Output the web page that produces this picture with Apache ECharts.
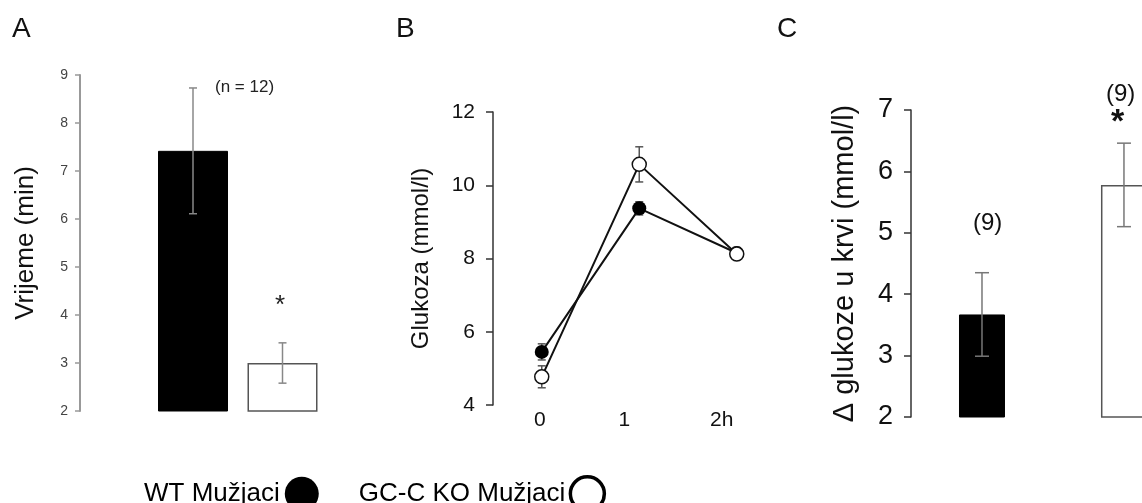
<!DOCTYPE html>
<html><head><meta charset="utf-8">
<script src="https://cdn.jsdelivr.net/npm/echarts@6/dist/echarts.min.js"></script>
<style>html,body{margin:0;padding:0;background:#fff}#c{width:1142px;height:503px}</style>
</head><body><div id="c"></div>
<script>
// ---------- data ----------
const groups = ['WT Mužjaci', 'GC-C KO Mužjaci'];
// Panel A: time (min)
const aTime = [7.42, 3.0];
const aErr = [1.31, 0.42];
const aTicks = [2, 9, 1];
// Panel B: glucose (mmol/l) over time
const bHours = [0, 1, 2];
const bHourLabels = ['0', '1', '2h'];
const bWT = [5.45, 9.37, 8.15];
const bWTErr = [0.22, 0.18, 0.15];
const bKO = [4.77, 10.57, 8.12];
const bKOErr = [0.3, 0.48, 0.15];
// Panel C: delta blood glucose
const cGroupPos = [0, 1];
const cDelta = [3.67, 5.78];
const cErr = [0.68, 0.68];
const cN = ['(9)', '(9)'];

const FF = 'Arial, "Liberation Sans", sans-serif';
const chart = echarts.init(document.getElementById('c'), null, {renderer: 'canvas'});

function errRender(capHalf, color, lw) {
  return function (params, api) {
    const x = api.value(0), y = api.value(1), e = api.value(2);
    const t = api.coord([x, y + e]);
    const b = api.coord([x, y - e]);
    const st = {stroke: color, lineWidth: lw};
    return {type: 'group', children: [
      {type: 'line', shape: {x1: t[0], y1: t[1], x2: b[0], y2: b[1]}, style: st},
      {type: 'line', shape: {x1: t[0] - capHalf, y1: t[1], x2: t[0] + capHalf, y2: t[1]}, style: st},
      {type: 'line', shape: {x1: b[0] - capHalf, y1: b[1], x2: b[0] + capHalf, y2: b[1]}, style: st}
    ]};
  };
}

const barStyles = [
  {color: '#000', borderColor: '#000', borderWidth: 1},
  {color: '#fff', borderColor: '#555', borderWidth: 1.5}
];

const option = {
  animation: false,
  backgroundColor: '#fff',
  textStyle: {fontFamily: FF},
  grid: [
    {left: 148.25, top: 75, width: 179, height: 336, outerBoundsMode: 'none'},
    {left: 493, top: 112, width: 273, height: 293, outerBoundsMode: 'none'},
    {left: 911, top: 110, right: 0, height: 307, outerBoundsMode: 'none'}
  ],
  xAxis: [
    {gridIndex: 0, type: 'category', data: groups, axisLine: {show: false}, axisTick: {show: false}, axisLabel: {show: false}},
    {gridIndex: 1, type: 'value', min: -0.5, max: 2.3, splitLine: {show: false}, axisLine: {show: false}, axisTick: {show: false},
      axisLabel: {customValues: bHours, margin: 5, fontSize: 21, color: '#111',
        formatter: function (v) { const i = bHours.indexOf(v); return '{l' + i + '|' + bHourLabels[i] + '}'; },
        rich: {l0: {fontSize: 21, padding: [0, 4, 0, 0]}, l1: {fontSize: 21, padding: [0, 30, 0, 0]}, l2: {fontSize: 21, padding: [0, 30, 0, 0]}}}},
    {gridIndex: 2, type: 'value', min: -0.5, max: 1.127, splitLine: {show: false}, axisLine: {show: false}, axisTick: {show: false}, axisLabel: {show: false}}
  ],
  yAxis: [
    {gridIndex: 0, type: 'value', min: aTicks[0], max: aTicks[1], interval: aTicks[2], offset: 68.25,
      splitLine: {show: false},
      axisLine: {show: true, onZero: false, lineStyle: {color: '#999', width: 2}},
      axisTick: {show: true, length: 5, lineStyle: {color: '#999', width: 1.5}},
      axisLabel: {fontSize: 14, color: '#444', margin: 12},
      name: 'Vrijeme (min)', nameLocation: 'middle', nameRotate: 90, nameGap: 41,
      nameTextStyle: {fontSize: 26, color: '#111'}},
    {gridIndex: 1, type: 'value', min: 4, max: 12, interval: 2,
      splitLine: {show: false},
      axisLine: {show: true, onZero: false, lineStyle: {color: '#333', width: 1.5}},
      axisTick: {show: true, length: 7, lineStyle: {color: '#333', width: 1.5}},
      axisLabel: {fontSize: 21, color: '#111', margin: 18},
      name: 'Glukoza (mmol/l)', nameLocation: 'middle', nameRotate: 90, nameGap: 60,
      nameTextStyle: {fontSize: 24, color: '#111'}},
    {gridIndex: 2, type: 'value', min: 2, max: 7, interval: 1,
      splitLine: {show: false},
      axisLine: {show: true, onZero: false, lineStyle: {color: '#333', width: 1.5}},
      axisTick: {show: true, length: 7, lineStyle: {color: '#333', width: 1.5}},
      axisLabel: {fontSize: 27, color: '#111', margin: 18},
      name: 'Δ glukoze u krvi (mmol/l)', nameLocation: 'middle', nameRotate: 90, nameGap: 52,
      nameTextStyle: {fontSize: 29, color: '#111'}}
  ],
  legend: {
    left: 139, top: 470, align: 'right', icon: 'circle', itemWidth: 34, itemHeight: 34, itemGap: 40,
    selectedMode: false,
    textStyle: {fontSize: 26, color: '#000', fontFamily: FF},
    data: [
      {name: groups[0], itemStyle: {color: '#000', borderColor: '#000', borderWidth: 0}},
      {name: groups[1], itemStyle: {color: '#fff', borderColor: '#000', borderWidth: 3.5}}
    ]
  },
  graphic: [
    {type: 'text', left: 12, top: 15, style: {text: 'A', fontSize: 28, fill: '#111', fontFamily: FF}},
    {type: 'text', left: 396, top: 15, style: {text: 'B', fontSize: 28, fill: '#111', fontFamily: FF}},
    {type: 'text', left: 777, top: 15, style: {text: 'C', fontSize: 28, fill: '#111', fontFamily: FF}},
    {type: 'text', left: 215, top: 79, style: {text: '(n = 12)', fontSize: 17, fill: '#222', fontFamily: FF}},
    {type: 'text', left: 275, top: 293, style: {text: '*', fontSize: 26, fill: '#222', fontFamily: FF}},
    {type: 'text', left: 973, top: 211, style: {text: cN[0], fontSize: 24, fill: '#111', fontFamily: FF}},
    {type: 'text', left: 1106, top: 82, style: {text: cN[1], fontSize: 24, fill: '#111', fontFamily: FF}},
    {type: 'text', left: 1111, top: 106, style: {text: '*', fontSize: 34, fontWeight: 'bold', fill: '#111', fontFamily: FF}}
  ],
  series: [
    {type: 'bar', xAxisIndex: 0, yAxisIndex: 0, barWidth: 70, clip: true,
      data: aTime.map((v, i) => ({value: v, itemStyle: barStyles[i]}))},
    {type: 'custom', xAxisIndex: 0, yAxisIndex: 0, z: 5,
      renderItem: errRender(4, '#888', 1.5),
      data: aTime.map((v, i) => [i, v, aErr[i]])},
    {type: 'custom', xAxisIndex: 1, yAxisIndex: 1, z: 1,
      renderItem: errRender(4, '#555', 1.5),
      data: bHours.map((h, i) => [h, bWT[i], bWTErr[i]]).concat(bHours.map((h, i) => [h, bKO[i], bKOErr[i]]))},
    {type: 'line', name: groups[0], xAxisIndex: 1, yAxisIndex: 1, z: 3,
      symbol: 'circle', symbolSize: 14,
      itemStyle: {color: '#000'}, lineStyle: {color: '#111', width: 2},
      data: bHours.map((h, i) => [h, bWT[i]])},
    {type: 'line', name: groups[1], xAxisIndex: 1, yAxisIndex: 1, z: 4,
      symbol: 'circle', symbolSize: 14,
      itemStyle: {color: '#fff', borderColor: '#111', borderWidth: 1.5}, lineStyle: {color: '#111', width: 2},
      data: bHours.map((h, i) => [h, bKO[i]])},
    {type: 'bar', xAxisIndex: 2, yAxisIndex: 2, barWidth: 46, clip: true,
      data: cDelta.map((v, i) => ({value: [cGroupPos[i], v], itemStyle: barStyles[i]}))},
    {type: 'custom', xAxisIndex: 2, yAxisIndex: 2, z: 5,
      renderItem: errRender(7, '#777', 1.5),
      data: cDelta.map((v, i) => [cGroupPos[i], v, cErr[i]])}
  ]
};
chart.setOption(option);
</script></body></html>
